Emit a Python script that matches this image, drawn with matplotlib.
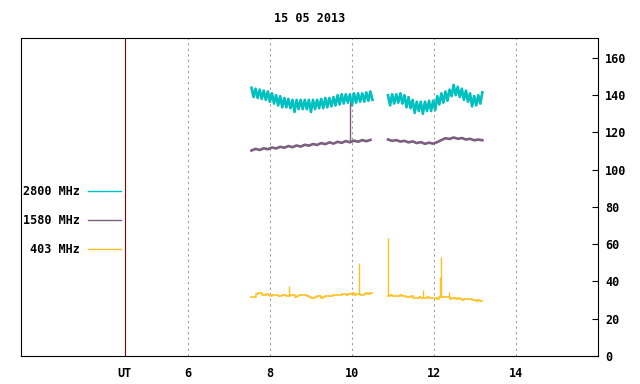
import numpy as np
import matplotlib
matplotlib.use("Agg")
import matplotlib.pyplot as plt

# time in UT hours, one sample every 0.05 h (cyan, yellow) / 0.1 h (purple)
seg1_start = 7.55
seg2_start = 10.88

f2800_a = [144, 139, 143.5, 138.5, 143, 138, 142.5, 137.5, 142, 136.5,
           141, 135.5, 140, 134.5, 139.5, 133.5, 138.5, 133.5, 138, 133,
           137.5, 131, 137.5, 132.5, 137.5, 132.5, 137.5, 132.5, 137.5, 131,
           137.5, 132.5, 137.5, 133, 138, 133, 138.5, 133.5, 138.5, 134,
           139, 134.5, 140, 135, 140.5, 135.5, 140.5, 136, 140.5, 134.5,
           141, 136, 141, 136.5, 141, 136.5, 141.5, 137, 142, 137.5]
f2800_b = [140, 134.5, 140.5, 135.5, 140.5, 136, 141, 135.5, 140, 133.5,
           139, 133, 137.5, 130.5, 136.5, 131.5, 136.5, 130, 136.5, 131.5,
           137, 131.5, 137, 132, 139.5, 135, 141, 136, 142, 137,
           143, 139.5, 145.5, 140, 144.5, 139, 143.5, 137.5, 142.5, 136.5,
           141, 134, 139.5, 134.5, 140, 135.5, 141.5]

f1580_a = [110.3, 111.2, 110.6, 111.5, 111.0, 111.9, 111.4, 112.3, 111.8, 112.7,
           112.1, 113.0, 112.4, 113.4, 112.9, 113.8, 113.3, 114.3, 113.7, 114.7,
           114.0, 115.0, 114.4, 115.4, 114.7, 115.6, 115.0, 115.9, 115.3, 116.0]
f1580_b = [116.2, 115.5, 115.9, 115.1, 115.5, 114.7, 115.2, 114.3, 114.8, 113.9,
           114.5, 114.0, 114.8, 115.9, 116.9, 116.5, 117.3, 116.6, 117.0, 116.2,
           116.6, 115.8, 116.2, 115.8]

f403_a = [31.8, 31.8, 33.2, 33.6, 33.6, 32.5, 32.8, 33.4, 33.0, 32.3,
          32.8, 33.0, 32.6, 32.4, 32.0, 32.7, 32.8, 32.3, 32.3, 33.0,
          32.5, 31.8, 32.4, 32.8, 32.8, 32.8, 32.5, 32.2, 31.8, 31.2,
          31.2, 31.5, 32.2, 32.0, 31.4, 31.8, 32.2, 32.2, 32.0, 32.3,
          32.7, 32.7, 32.9, 33.0, 33.3, 33.3, 33.0, 33.4, 33.2, 33.6,
          33.0, 33.4, 33.2, 33.0, 32.6, 33.4, 33.8, 33.5, 33.9, 33.6]
f403_b = [32.4, 32.6, 32.4, 32.4, 32.0, 32.2, 32.5, 32.0, 32.4, 31.8,
          31.6, 32.2, 31.2, 31.0, 31.2, 31.6, 31.2, 31.0, 31.0, 31.5,
          31.2, 31.1, 31.3, 31.0, 30.8, 31.5, 31.8, 31.6, 31.8, 31.5,
          30.8, 31.0, 31.2, 30.8, 31.0, 30.6, 30.2, 30.6, 30.8, 30.4,
          30.4, 30.0, 30.0, 29.6, 29.8, 29.4, 29.6]

# isolated spikes (time, peak)
spike1580_t = [9.96]
spike1580_v = [136.5]
spike403_t = [8.46, 10.18, 10.89, 11.74, 12.15, 12.18, 12.37]
spike403_v = [37.6, 50.0, 63.4, 35.4, 42.6, 53.3, 34.5]

c2800 = "#00c0c0"
c1580 = "#7b5e80"
c403 = "#ffc020"


def times(start, vals, step):
    return start + step * np.arange(len(vals))


def main():
    plt.rcParams["font.family"] = "DejaVu Sans Mono"
    plt.rcParams["font.weight"] = "bold"
    plt.rcParams["font.size"] = 8.5

    fig = plt.figure(figsize=(6.4, 3.84), dpi=100)
    ax = fig.add_axes([21 / 640, 28 / 384, 577 / 640, 318 / 384])

    t2a, t2b = times(seg1_start, f2800_a, 0.05), times(seg2_start, f2800_b, 0.05)
    t1a, t1b = times(seg1_start, f1580_a, 0.1), times(seg2_start, f1580_b, 0.1)
    t4a, t4b = times(seg1_start, f403_a, 0.05), times(seg2_start, f403_b, 0.05)

    ax.plot(t2a, f2800_a, color=c2800, lw=1.9, label="2800 MHz")
    ax.plot(t2b, f2800_b, color=c2800, lw=1.9)
    ax.plot(t1a, f1580_a, color=c1580, lw=1.9, label="1580 MHz")
    ax.plot(t1b, f1580_b, color=c1580, lw=1.9)
    ax.plot(t4a, f403_a, color=c403, lw=1.2, drawstyle="steps-post", label="403 MHz")
    ax.plot(t4b, f403_b, color=c403, lw=1.2, drawstyle="steps-post")

    base1580 = np.interp(spike1580_t, np.r_[t1a, t1b], f1580_a + f1580_b)
    ax.vlines(spike1580_t, base1580, spike1580_v, color=c1580, lw=1.0)
    base403 = np.interp(spike403_t, np.r_[t4a, t4b], f403_a + f403_b)
    ax.vlines(spike403_t, base403, spike403_v, color=c403, lw=1.0)

    ut = 4.46
    ax.axvline(ut, color="#8b0000", lw=0.8)

    ax.set_xlim(1.93, 16.0)
    ax.set_ylim(0, 170.7)
    ax.set_xticks([6, 8, 10, 12, 14])
    ax.set_yticks(range(0, 161, 20))
    ax.yaxis.tick_right()
    ax.tick_params(axis="y", direction="in", length=4, width=0.8, pad=5)
    ax.tick_params(axis="x", length=0, pad=8)
    ax.grid(axis="x", color="#a0a0a0", ls=(0, (2, 3)), lw=0.8)
    for s in ax.spines.values():
        s.set_linewidth(0.8)
    ax.text(ut, -0.035, "UT", transform=ax.get_xaxis_transform(),
            ha="center", va="top")

    fig.text(309.5 / 640, 1 - 18 / 384, "15 05 2013", ha="center", va="center")

    leg = ax.legend(loc="upper right", bbox_to_anchor=(121 / 640, 1 - 185 / 384),
                    bbox_transform=fig.transFigure, frameon=False, markerfirst=False,
                    handlelength=2.8, handletextpad=0.7, labelspacing=1.35,
                    borderpad=0, borderaxespad=0)
    for h in leg.get_lines():
        h.set_linewidth(1.0)

    fig.savefig("out.png", dpi=100)


if __name__ == "__main__":
    main()
